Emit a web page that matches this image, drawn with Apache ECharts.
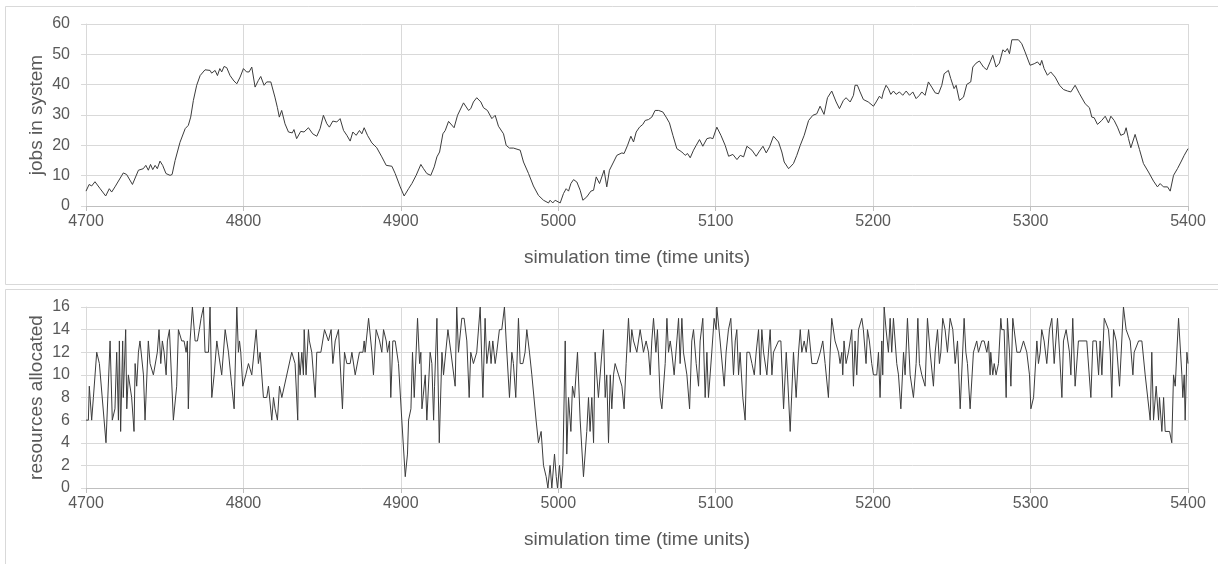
<!DOCTYPE html>
<html>
<head>
<meta charset="utf-8">
<script src="https://cdn.jsdelivr.net/npm/echarts@6/dist/echarts.min.js"></script>
<style>
html,body{margin:0;padding:0;background:#fff;}
#chart{width:1218px;height:564px;}
</style>
</head>
<body>
<div id="chart"></div>
<script>
// ---- data ----
const xTicks = [4700, 4800, 4900, 5000, 5100, 5200, 5300, 5400];
const jobsTicks = [0, 10, 20, 30, 40, 50, 60];
const resTicks = [0, 2, 4, 6, 8, 10, 12, 14, 16];

const jobsTime = [4700.0,4702.0,4703.6,4705.7,4709.0,4712.5,4714.8,4716.3,4718.4,4723.7,4725.8,4729.5,4733.3,4736.4,4738.0,4739.6,4741.0,4742.4,4743.9,4745.3,4747.0,4748.7,4750.8,4753.4,4754.7,4756.6,4759.7,4763.0,4765.0,4766.5,4768.2,4770.3,4772.5,4775.6,4778.8,4779.8,4782.0,4783.5,4785.0,4786.2,4787.7,4789.4,4791.5,4794.0,4795.8,4797.9,4800.0,4802.0,4803.6,4805.3,4807.4,4809.5,4811.0,4813.1,4814.8,4817.4,4820.0,4821.6,4822.8,4824.3,4826.4,4828.6,4831.0,4832.1,4833.8,4836.4,4838.5,4841.3,4844.0,4846.6,4848.7,4850.8,4853.0,4854.6,4856.8,4859.3,4861.4,4863.6,4865.7,4867.8,4869.5,4871.6,4873.7,4875.2,4876.7,4878.8,4881.6,4884.7,4887.9,4890.7,4894.3,4896.4,4899.6,4902.1,4904.9,4907.0,4909.7,4912.7,4914.4,4916.5,4919.0,4921.2,4922.9,4924.6,4926.7,4928.2,4930.3,
4931.3,4933.8,4936.0,4937.2,4939.8,4943.0,4944.4,4946.1,4948.2,4950.8,4952.5,4955.0,4957.8,4959.9,4962.0,4965.2,4966.9,4969.0,4971.5,4975.8,4977.9,4981.1,4984.2,4987.4,4990.6,4993.8,4994.8,4996.5,4998.0,5001.2,5003.3,5005.0,5006.5,5008.0,5009.7,5011.8,5013.9,5015.6,5018.1,5020.7,5022.4,5024.1,5026.2,5029.1,5030.8,5032.5,5035.1,5037.2,5040.4,5041.8,5044.0,5046.1,5047.8,5049.5,5051.6,5053.7,5055.2,5057.3,5059.4,5061.5,5063.7,5066.4,5068.5,5070.6,5072.8,5075.3,5078.5,5080.6,5082.1,5083.8,5085.9,5087.6,5089.7,5091.8,5094.4,5096.5,5098.2,5100.7,5103.3,5106.0,5108.2,5110.9,5113.5,5115.6,5117.7,5119.8,5123.0,5125.7,5127.8,5130.0,5132.1,5134.2,5136.7,5139.9,5142.0,5143.5,5146.3,5149.4,5151.5,5153.7,5156.2,5159.0,5161.7,5164.2,
5166.3,5168.8,5171.0,5173.7,5176.5,5178.6,5181.1,5182.8,5185.4,5187.5,5188.5,5190.0,5191.7,5193.8,5196.9,5200.2,5201.9,5204.0,5205.5,5206.5,5208.2,5209.7,5211.2,5212.9,5214.6,5216.7,5218.8,5221.0,5223.1,5225.2,5227.3,5229.4,5230.9,5233.0,5235.1,5237.2,5239.4,5241.5,5243.6,5245.1,5247.8,5249.3,5251.4,5252.7,5254.8,5257.4,5259.5,5262.0,5263.3,5265.4,5267.5,5270.1,5272.2,5274.3,5276.0,5278.1,5280.2,5282.4,5283.8,5285.3,5286.6,5288.1,5292.3,5294.4,5296.5,5299.7,5302.3,5304.4,5306.1,5307.1,5308.6,5310.7,5312.8,5315.6,5318.4,5320.9,5323.5,5325.6,5328.3,5331.1,5334.7,5337.4,5338.9,5340.4,5342.5,5345.2,5347.4,5349.5,5351.0,5353.1,5355.2,5357.3,5359.5,5360.7,5362.2,5363.7,5366.4,5369.2,5371.7,5374.9,5378.1,5380.6,5382.3,5384.4,5387.0,5388.7,5390.8,5393.3,5395.5,5397.6,5400.0];
const jobsValue = [4.9,7.1,6.6,8.0,5.7,3.3,5.7,4.6,6.3,10.9,10.4,7.1,11.8,12.3,13.4,11.8,13.7,12.0,13.4,12.3,14.8,13.4,10.7,10.1,10.4,15.0,21.0,25.5,26.6,29.3,34.8,39.8,43.0,44.9,44.7,43.8,44.7,43.0,45.3,44.2,46.0,45.6,43.0,41.2,40.3,42.5,45.3,44.2,44.2,45.8,39.2,41.4,42.7,39.8,40.9,40.9,35.9,32.4,29.3,31.5,27.1,24.4,24.1,25.2,22.2,24.6,24.4,25.8,23.8,23.0,25.5,29.9,27.1,26.0,28.0,27.7,28.8,24.9,23.3,21.4,24.4,23.3,24.9,23.8,25.8,23.3,20.8,19.2,16.2,13.4,13.1,10.7,6.3,3.3,5.7,7.4,10.1,13.7,12.3,10.7,10.1,12.9,16.2,17.8,23.8,24.9,27.9,
27.7,25.8,29.9,30.4,34.0,31.5,32.1,34.3,35.7,34.3,32.4,31.5,28.8,29.9,26.3,23.8,20.0,19.1,19.1,18.4,14.5,10.7,6.6,3.5,1.9,1.0,1.9,1.0,1.9,1.0,4.1,5.7,4.9,7.4,8.7,7.9,5.2,1.9,3.0,4.9,5.2,9.6,7.4,11.8,6.3,11.8,14.5,16.7,17.5,17.3,20.0,23.0,21.1,24.4,26.0,26.9,28.2,28.5,29.3,31.5,31.5,31.0,29.3,27.4,23.3,18.9,17.8,16.7,17.3,15.9,18.4,20.0,21.9,19.7,22.2,22.5,22.2,26.0,23.3,20.0,16.4,17.0,15.3,16.7,16.2,19.7,18.4,16.4,18.1,19.7,17.5,19.5,23.0,21.1,17.8,14.5,12.3,14.0,16.7,20.0,23.3,28.2,29.9,30.4,
32.9,30.2,35.7,37.9,34.3,32.1,34.8,35.7,34.3,36.5,39.8,39.8,37.6,35.1,34.3,32.9,34.3,36.2,35.4,37.6,39.8,38.7,36.8,37.9,36.8,37.6,36.5,37.9,36.5,37.6,35.4,36.5,37.6,36.5,40.9,39.2,37.3,37.0,39.8,43.6,44.7,42.0,38.7,39.8,34.8,35.9,40.1,40.9,45.8,47.1,47.8,45.8,44.9,47.5,49.7,45.8,47.1,51.5,50.8,51.9,50.2,54.8,54.8,53.5,50.8,46.4,46.9,47.5,46.4,48.0,45.3,43.1,44.2,42.5,39.8,38.4,37.9,37.6,39.8,37.0,33.7,32.4,29.3,29.1,26.9,28.2,29.6,27.4,29.6,28.2,26.0,23.3,23.8,25.8,22.2,19.2,23.6,18.6,14.0,11.2,8.2,6.3,7.4,6.3,6.3,4.9,10.1,12.3,14.5,16.7,18.9];

const resTime = [4700.0,4701.5,4702.1,4703.6,4704.7,4706.8,4708.5,4712.7,4715.3,4716.7,4718.4,4719.5,4720.6,4721.2,4722.0,4723.3,4723.7,4725.2,4725.9,4726.9,4729.0,4730.5,4731.2,4732.2,4733.3,4734.3,4736.5,4737.5,4739.6,4740.7,4742.8,4745.3,4746.4,4747.5,4748.5,4749.6,4750.9,4751.7,4753.0,4755.5,4757.6,4758.7,4759.7,4760.8,4762.3,4763.6,4764.4,4765.0,4766.1,4767.6,4769.3,4770.8,4772.0,4773.1,4774.6,4775.6,4777.8,4778.8,4779.9,4781.4,4783.1,4784.1,4786.2,4788.4,4790.5,4792.6,4794.1,4795.8,4796.8,4797.5,4798.3,4799.6,4801.5,4803.2,4805.3,4806.4,4808.1,4809.5,4810.6,4811.7,4812.7,4814.8,4815.9,4816.9,4818.0,4819.1,4820.1,4821.6,4822.9,4824.4,4830.7,4832.8,4834.5,4835.0,4836.0,4837.1,4838.1,4838.6,4839.8,4841.3,4841.9,4843.4,4845.6,4846.6,4849.2,4851.5,4854.0,4855.1,4855.7,4856.8,4858.3,4860.4,4862.9,4864.2,4865.7,4867.8,4868.9,4871.0,4873.7,4875.9,4876.7,4877.3,4879.5,4880.1,4881.6,4882.6,4884.3,4886.5,4887.9,4889.0,4890.7,4891.5,4892.8,4893.6,4894.9,4896.4,4898.5,4900.6,4902.8,4904.2,4904.9,4906.4,4907.4,4908.5,4910.6,4911.9,4912.7,4913.4,4915.5,4916.5,4918.6,4919.7,4920.8,4921.4,4922.9,4924.4,4926.1,4927.1,4929.9,4931.8,4934.5,
4935.5,4936.6,4937.7,4938.7,4940.2,4941.9,4943.4,4944.4,4946.1,4948.2,4950.4,4952.1,4953.5,4954.6,4956.3,4957.3,4958.4,4959.9,4960.9,4962.6,4964.1,4965.8,4966.9,4967.7,4969.0,4970.5,4971.5,4973.0,4974.7,4975.8,4977.5,4978.9,4980.0,4981.7,4983.2,4985.9,4987.4,4989.1,4990.6,4992.3,4993.4,4994.8,4995.9,4997.6,4998.7,4999.5,5000.8,5001.8,5002.9,5004.4,5005.4,5006.5,5008.0,5009.0,5010.3,5012.2,5013.9,5016.0,5018.1,5019.2,5020.2,5021.3,5022.4,5023.4,5024.5,5025.5,5026.6,5027.7,5028.7,5029.8,5030.8,5031.9,5033.0,5034.0,5035.1,5036.1,5038.3,5040.4,5041.8,5043.1,5044.6,5045.7,5046.7,5047.8,5049.9,5052.0,5053.1,5054.1,5055.8,5057.3,5058.4,5059.4,5060.5,5062.0,5063.0,5064.7,5065.8,5067.9,5069.0,5070.0,5071.1,5072.1,5073.6,5075.3,5076.4,5077.4,5078.5,5079.5,5081.7,5083.4,5084.8,5085.9,5087.6,5089.1,5090.1,5091.8,5093.3,5094.4,5095.4,5097.5,5099.0,5100.3,5100.7,5102.8,5105.4,5106.6,5108.1,5109.6,5111.3,5112.4,5113.4,5114.5,5115.5,5117.2,5118.7,5119.8,5121.5,5123.0,5124.5,5125.7,5127.2,5128.3,5129.3,5130.4,5131.4,5132.5,5133.5,5134.6,5135.7,5136.7,5139.9,5141.4,5143.1,5144.8,5145.6,5147.3,5149.4,5151.1,5152.6,5153.7,5154.7,5156.2,5157.5,5159.0,5161.1,5164.3,5166.4,
5168.0,5169.5,5170.5,5171.6,5172.7,5173.7,5175.8,5178.0,5179.0,5180.1,5180.7,5181.5,5182.8,5184.3,5185.4,5186.4,5187.5,5188.5,5189.6,5190.7,5192.8,5193.8,5195.5,5196.4,5197.6,5199.1,5200.2,5202.3,5203.4,5204.4,5205.5,5206.1,5207.0,5208.2,5209.7,5210.8,5211.8,5212.9,5215.0,5216.1,5217.6,5219.3,5220.3,5221.8,5223.5,5225.6,5227.3,5228.4,5229.4,5230.9,5233.0,5234.5,5236.2,5238.3,5239.4,5240.9,5242.1,5243.0,5244.2,5245.7,5247.2,5248.9,5250.6,5252.1,5253.6,5255.3,5257.8,5258.9,5259.9,5261.6,5263.7,5264.8,5265.8,5266.9,5269.0,5270.5,5272.2,5273.3,5274.3,5274.7,5276.0,5276.9,5278.1,5279.6,5281.1,5281.7,5283.2,5284.5,5285.3,5286.6,5287.5,5288.7,5291.3,5293.4,5295.5,5297.6,5299.3,5300.2,5301.9,5304.0,5305.0,5306.1,5307.1,5308.6,5310.3,5312.0,5313.5,5315.0,5317.1,5318.4,5319.9,5320.9,5322.6,5324.7,5325.6,5326.8,5328.3,5330.4,5335.7,5338.3,5339.6,5341.7,5343.2,5344.2,5345.3,5346.8,5348.0,5349.5,5350.6,5351.6,5352.7,5354.4,5356.5,5359.0,5360.7,5363.3,5365.0,5365.8,5368.6,5370.7,5372.8,5376.0,5377.0,5378.1,5379.8,5381.3,5381.9,5383.4,5384.5,5385.5,5388.3,5389.7,5390.8,5391.9,5392.9,5394.0,5396.1,5396.7,5397.6,5398.2,5399.3,5400.0];
const resValue = [6,6,9,6,8,12,11,4,13,6,7,12,6,13,5,13,8,14,7,10,8,5,11,9,12,13,10,6,13,11,10,12,14,11,13,12,10,13,14,6,9,14,14,13,13,12,13,7,13,16,13,13,14,15,16,12,12,16,8,10,13,12,10,14,12,9,7,16,12,13,12,9,10,11,10,10,14,11,12,12,8,8,9,9,6,8,7,6,9,8,12,11,6,12,10,12,10,14,10,14,13,12,8,12,12,14,13,13,14,11,13,14,7,12,11,11,12,10,12,12,13,12,15,15,12,10,14,13,12,14,13,12,13,8,13,13,11,6,1,3,6,7,12,8,15,11,12,7,10,6,12,11,6,9,15,4,12,10,14,12,9,
16,12,12,15,15,13,8,12,11,12,16,8,15,11,13,11,13,11,12,14,14,16,13,13,8,12,11,8,15,11,11,12,14,12,10,6,4,5,2,1,0,2,0,3,1,0,2,0,2,13,3,8,5,9,8,12,6,1,5,8,5,8,4,12,12,8,8,12,14,8,10,4,10,7,10,11,10,9,7,11,15,12,14,13,12,14,13,12,13,12,10,13,15,12,14,8,7,11,15,12,13,12,10,13,15,11,15,12,10,7,13,14,11,9,13,15,8,12,8,12,15,14,16,13,9,12,14,15,10,13,14,10,12,8,6,12,12,11,10,12,14,10,14,12,12,10,12,14,10,12,13,13,7,12,10,5,12,8,12,14,12,13,12,14,11,11,12,
13,11,11,8,12,15,13,12,11,12,10,13,11,12,13,14,9,13,10,14,15,14,11,14,13,11,10,10,12,8,13,10,16,14,12,15,12,15,11,10,7,12,10,15,10,8,11,15,11,10,9,15,12,9,12,14,11,12,15,14,12,15,14,11,13,7,15,12,11,7,12,12,13,12,13,13,12,13,10,12,10,11,10,11,15,14,14,8,15,12,9,15,12,12,13,12,10,7,8,13,11,12,14,13,11,14,15,11,15,12,8,13,14,12,10,15,9,13,13,8,13,13,10,13,10,15,15,14,12,8,14,13,9,16,14,13,10,12,13,13,10,6,12,6,9,6,8,5,8,5,5,4,10,9,12,15,10,8,10,6,12,11];

const xName = 'simulation time (time units)';
const jobsName = 'jobs in system';
const resName = 'resources allocated';

function pairs(ts, vs) { return ts.map((t, i) => [t, vs[i]]); }

const FONT = '"Liberation Sans", Arial, sans-serif';
const labelColor = '#595959';
const gridColor = '#d9d9d9';

function xAxis(gridIndex) {
  return {
    type: 'value', gridIndex: gridIndex,
    min: xTicks[0], max: xTicks[xTicks.length - 1], interval: xTicks[1] - xTicks[0],
    name: xName, nameLocation: 'middle', nameGap: 42, nameMoveOverlap: false,
    nameTextStyle: { color: labelColor, fontSize: 19, fontFamily: FONT },
    axisLine: { show: true, lineStyle: { color: '#bfbfbf', width: 1 } },
    axisTick: { show: true, length: 5, lineStyle: { color: '#bfbfbf' } },
    axisLabel: { color: labelColor, fontSize: 16, fontFamily: FONT, margin: 8,
      formatter: function (v) { return String(v); } },
    splitLine: { show: true, lineStyle: { color: gridColor, width: 1 } }
  };
}
function yAxis(gridIndex, ticks, name) {
  return {
    type: 'value', gridIndex: gridIndex,
    min: ticks[0], max: ticks[ticks.length - 1], interval: ticks[1] - ticks[0],
    name: name, nameLocation: 'middle', nameGap: 40, nameMoveOverlap: false,
    nameTextStyle: { color: labelColor, fontSize: 19, fontFamily: FONT },
    axisLine: { show: true, lineStyle: { color: gridColor, width: 1 } },
    axisTick: { show: true, length: 5, lineStyle: { color: gridColor } },
    axisLabel: { color: labelColor, fontSize: 16, fontFamily: FONT, margin: 16,
      formatter: function (v) { return String(v); } },
    splitLine: { show: true, lineStyle: { color: gridColor, width: 1 } }
  };
}

const chart = echarts.init(document.getElementById('chart'), null, { renderer: 'canvas' });
chart.setOption({
  animation: false,
  backgroundColor: '#ffffff',
  graphic: [
    { type: 'rect', shape: { x: 5.5, y: 6.5, width: 1240, height: 278 }, style: { fill: 'none', stroke: gridColor, lineWidth: 1 }, silent: true },
    { type: 'rect', shape: { x: 5.5, y: 289.5, width: 1240, height: 300 }, style: { fill: 'none', stroke: gridColor, lineWidth: 1 }, silent: true }
  ],
  grid: [
    { left: 86, right: 30, top: 24, height: 182 },
    { left: 86, right: 30, top: 307, height: 181 }
  ],
  xAxis: [xAxis(0), xAxis(1)],
  yAxis: [yAxis(0, jobsTicks, jobsName), yAxis(1, resTicks, resName)],
  series: [
    { type: 'line', xAxisIndex: 0, yAxisIndex: 0, data: pairs(jobsTime, jobsValue), showSymbol: false,
      lineStyle: { color: '#3c3c3c', width: 1 } },
    { type: 'line', xAxisIndex: 1, yAxisIndex: 1, data: pairs(resTime, resValue), showSymbol: false,
      lineStyle: { color: '#3c3c3c', width: 1 } }
  ]
});
</script>
</body>
</html>
